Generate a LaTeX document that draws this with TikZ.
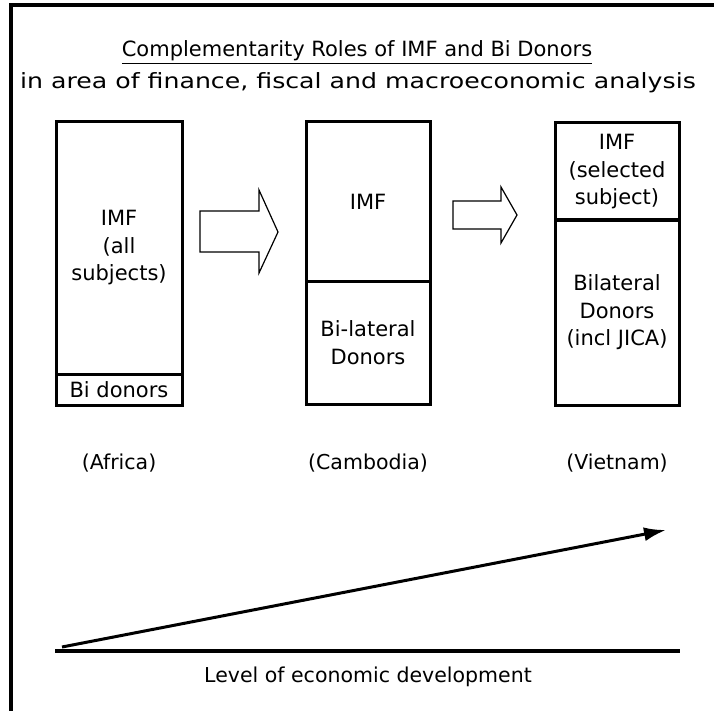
\documentclass[tikz,border=0pt]{standalone}
\usepackage{fontspec}
\setmainfont{DejaVu Sans}
\usetikzlibrary{arrows.meta}
\tikzset{
  box/.style={draw, line width=3pt, inner sep=0pt, align=center, font=\fontsize{21}{27.5}\selectfont},
  blockarrow/.style={draw, line width=1.2pt, fill=white, line join=miter},
  lbl/.style={font=\fontsize{20.5}{27.5}\selectfont, inner sep=0pt, anchor=base},
}
\begin{document}
\begin{tikzpicture}[x=1pt,y=-1pt]
\useasboundingbox (0,0) rectangle (714,711);
% frame
\draw[line width=3.5pt] (11,711) -- (11,5) -- (714,5);
% titles
\node[lbl, font=\fontsize{21}{27.5}\selectfont] (title) at (357,57) {\underline{Complementarity Roles of IMF and Bi Donors}};
\node[lbl, font=\fontsize{21}{27.5}\selectfont] (sub) at (358,89) {\scalebox{1.2}[1]{in area of finance, fiscal and macroeconomic analysis}};
% box 1
\node[box, minimum width=126pt, minimum height=252pt] (imfa) at (119,248) {IMF\\(all\\subjects)};
\node[box, minimum width=126pt, minimum height=31pt] (bia) at (119,389.5) {Bi donors};
% box 2
\node[box, minimum width=124pt, minimum height=159pt] (imfc) at (368,201.5) {IMF};
\node[box, minimum width=124pt, minimum height=123pt] (bic) at (368,342.5) {Bi-lateral\\Donors};
% box 3
\node[box, minimum width=124pt, minimum height=98pt] (imfv) at (617,172) {IMF\\(selected\\subject)};
\node[box, minimum width=124pt, minimum height=185pt] (biv) at (617,312.5) {Bilateral\\Donors\\(incl JICA)};
% block arrows
\draw[blockarrow] (200,211) -- (259,211) -- (259,190) -- (278,232) -- (259,273) -- (259,252) -- (200,252) -- cycle;
\draw[blockarrow] (453,201) -- (501,201) -- (501,187) -- (517,215) -- (501,243) -- (501,229) -- (453,229) -- cycle;
% region labels
\node[lbl] (af) at (119,469) {(Africa)};
\node[lbl] (ca) at (368,469) {(Cambodia)};
\node[lbl] (vn) at (617,469) {(Vietnam)};
% development axis
\coordinate (ds) at (62,647);
\coordinate (de) at (666,530);
\draw[line width=3pt, -{Latex[length=22pt,width=14pt]}] (ds) -- (de);
\coordinate (al) at (55,651);
\coordinate (ar) at (680,651);
\draw[line width=3.5pt] (al) -- (ar);
\node[lbl] (dev) at (368,682) {Level of economic development};
\end{tikzpicture}
\end{document}
